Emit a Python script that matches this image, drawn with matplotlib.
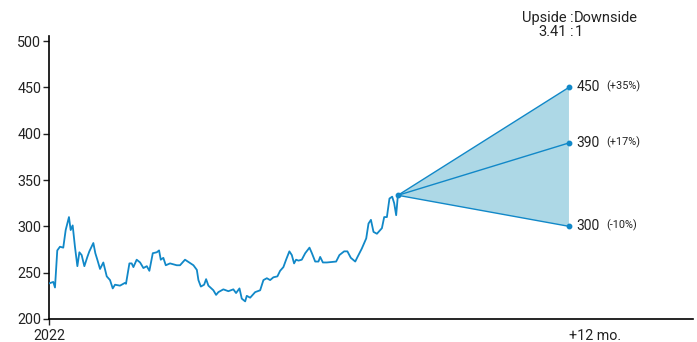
import matplotlib.pyplot as plt
import numpy as np

plt.rcParams['font.family'] = ['Roboto', 'DejaVu Sans']

# price history: months since start of 2022, price
months = [0.02, 0.30, 0.42, 0.58, 0.77, 1.00, 1.17, 1.40, 1.52, 1.66, 1.82, 1.99, 2.13, 2.29,
          2.48, 2.69, 2.83, 3.11, 3.25, 3.39, 3.58, 3.81, 4.05, 4.28, 4.47, 4.63, 4.98, 5.33,
          5.40, 5.64, 5.80, 5.92, 6.15, 6.39, 6.62, 6.86, 7.04, 7.28, 7.56, 7.72, 7.84, 8.02,
          8.19, 8.49, 8.96, 9.19, 9.54, 10.13, 10.37, 10.48, 10.65, 10.88, 11.02, 11.18, 11.53,
          11.72, 11.88, 12.23, 12.58, 12.93, 13.12, 13.36, 13.52, 13.76, 13.87, 14.11, 14.46,
          14.81, 15.04, 15.28, 15.51, 15.74, 16.02, 16.21, 16.44, 16.63, 16.86, 17.03, 17.19,
          17.33, 17.50, 17.73, 17.97, 18.27, 18.44, 18.67, 18.90, 19.02, 19.21, 19.49, 20.14,
          20.37, 20.70, 20.93, 21.17, 21.48, 21.64, 21.94, 22.25, 22.41, 22.58, 22.76, 23.00,
          23.35, 23.51, 23.70, 23.88, 24.07, 24.21, 24.35, 24.47]
prices = [238.5, 240, 234, 274, 278, 277, 296, 310, 296, 301, 278, 257, 272, 269,
          257, 267, 273, 282, 271, 264, 254, 261, 246, 242, 233, 237, 236, 239,
          238, 260, 260, 256, 264, 261, 255, 257, 252, 271, 272, 274, 264, 266,
          258, 260, 258, 258, 264, 258, 253, 242, 235, 237, 243, 236, 231,
          226, 229, 232, 230, 232, 228, 233, 222, 219, 225, 223, 229,
          231, 242, 244, 242, 245, 246, 252, 256, 264, 273, 269, 260,
          264, 263, 264, 271, 277, 271, 262, 262, 267, 261, 261, 262,
          269, 273, 273, 266, 262, 267, 276, 287, 303, 307, 294, 292,
          298, 310, 310, 330, 332, 325, 312, 333.5]

# 12-month targets
targets = [450, 390, 300]
target_pct = ['(+35%)', '(+17%)', '(-10%)']
ratio_text = '3.41'

line_color = '#1188c8'
fill_color = '#add8e6'
txt = '#222222'

fig = plt.figure(figsize=(6.97, 3.42), dpi=100)
ax = fig.add_axes([49 / 697, 23 / 342, 644 / 697, 283 / 342])

ax.plot(months, prices, color=line_color, lw=1.3, zorder=3)

x0, y0 = months[-1], prices[-1]
x1 = x0 + 12
ax.fill([x0, x1, x1], [y0, max(targets), min(targets)], color=fill_color, lw=0, zorder=1)
for t, p in zip(targets, target_pct):
    ax.plot([x0, x1], [y0, t], color=line_color, lw=1.0, zorder=2)
    ax.plot([x1], [t], 'o', color=line_color, ms=3.2, zorder=4)
    ax.annotate(str(t), (x1, t), xytext=(5.5, 0), textcoords='offset points',
                va='center', ha='left', fontsize=10, color=txt)
    ax.annotate(p, (x1, t), xytext=(27, 0.5), textcoords='offset points',
                va='center', ha='left', fontsize=7.8, color=txt)
ax.plot([x0], [y0], 'o', color=line_color, ms=3.2, zorder=4)

ax.set_ylim(200, 505.4)
ax.set_xlim(0, x1 + 8.7)
ax.set_yticks(range(200, 501, 50))
ax.set_xticks([0, x1 + 1.8], ['2022', '+12 mo.'])
ax.xaxis.get_major_ticks()[1].tick1line.set_visible(False)
ax.tick_params(labelsize=10.3, colors=txt, length=4, width=1, pad=1.5)
ax.tick_params(axis='x', pad=3)
for s in ['top', 'right']:
    ax.spines[s].set_visible(False)
for s in ['left', 'bottom']:
    ax.spines[s].set_linewidth(1.2)

# Upside : Downside ratio header
fs = 10.5
def px(x, y):
    return x / 697, 1 - y / 342

fig.text(*px(566.5, 22), 'Upside', ha='right', va='baseline', fontsize=fs, color=txt)
fig.text(*px(572, 22), ':', ha='center', va='baseline', fontsize=fs, color=txt)
fig.text(*px(574, 22), 'Downside', ha='left', va='baseline', fontsize=fs, color=txt)
fig.text(*px(567, 35.5), ratio_text, ha='right', va='baseline', fontsize=fs, color=txt)
fig.text(*px(572, 35.5), ':', ha='center', va='baseline', fontsize=fs, color=txt)
fig.text(*px(574.5, 35.5), '1', ha='left', va='baseline', fontsize=fs, color=txt)

fig.savefig('out.png', dpi=100)
